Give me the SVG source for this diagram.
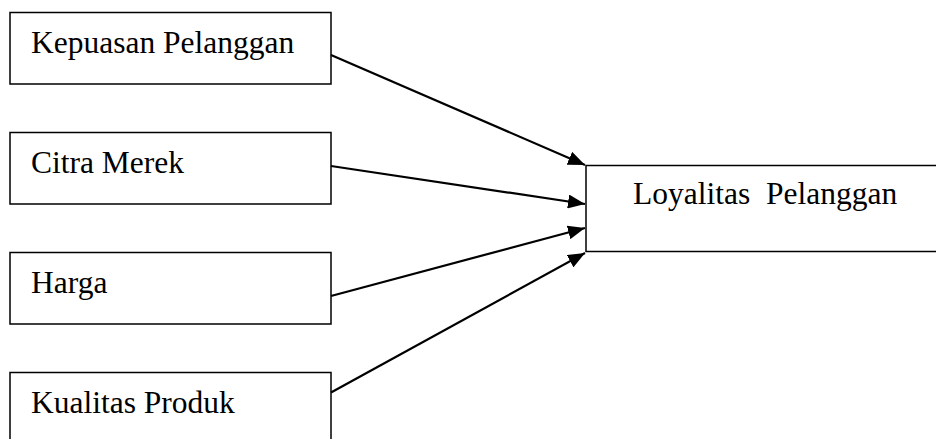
<svg xmlns="http://www.w3.org/2000/svg" width="936" height="439" viewBox="0 0 936 439">
<style>
.box{fill:#fff;stroke:#000;stroke-width:1.5}
.lbl{font-family:"Liberation Serif","Times New Roman",serif;font-size:31.5px;fill:#000}
.conn{stroke:#000;stroke-width:2.2;fill:none;marker-end:url(#ah)}
</style>
<defs>
<marker id="ah" markerUnits="userSpaceOnUse" markerWidth="18" markerHeight="14" refX="17" refY="7" orient="auto">
<path d="M0,0 L17,7 L0,14 z" fill="#000"/>
</marker>
</defs>
<rect width="936" height="439" fill="#fff"/>
<g id="kepuasan"><rect class="box" x="10" y="12.5" width="321" height="71.5"/><text class="lbl" x="31" y="53">Kepuasan Pelanggan</text></g>
<g id="citra"><rect class="box" x="10" y="132.5" width="321" height="71.5"/><text class="lbl" x="31" y="173">Citra Merek</text></g>
<g id="harga"><rect class="box" x="10" y="252.5" width="321" height="71.5"/><text class="lbl" x="31" y="292.5">Harga</text></g>
<g id="kualitas"><rect class="box" x="10" y="372.5" width="321" height="80"/><text class="lbl" x="31" y="413">Kualitas Produk</text></g>
<g id="loyalitas"><rect class="box" x="586" y="165.5" width="360" height="86"/><text class="lbl" x="633" y="204" xml:space="preserve">Loyalitas  Pelanggan</text></g>
<g id="connectors">
<line class="conn" x1="331" y1="55" x2="585" y2="165"/>
<line class="conn" x1="331" y1="166" x2="585" y2="204"/>
<line class="conn" x1="331" y1="296" x2="585" y2="228"/>
<line class="conn" x1="331" y1="392.5" x2="585" y2="253"/>
</g>
</svg>
